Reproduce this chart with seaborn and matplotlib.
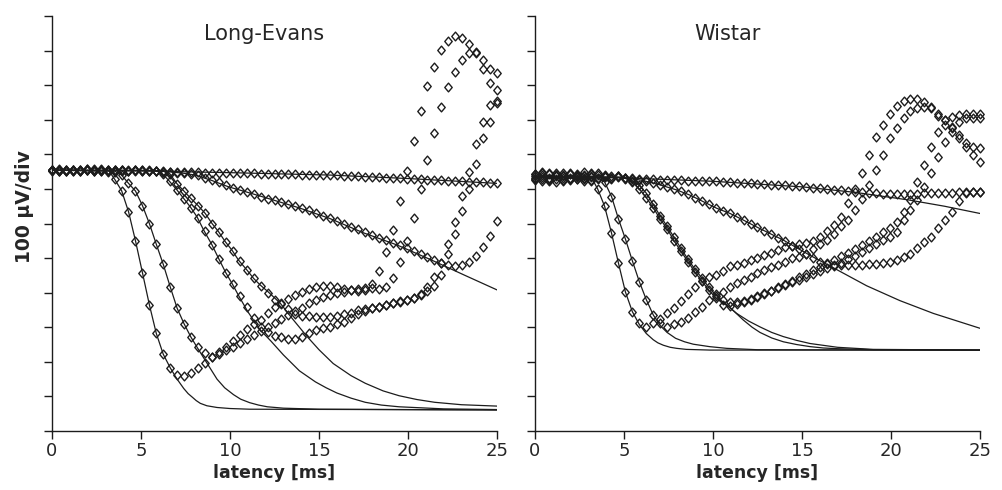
import numpy as np
import matplotlib
matplotlib.use("Agg")
import matplotlib.pyplot as plt
import seaborn as sns
from matplotlib.path import Path

sns.set_style("ticks")
plt.rcParams['font.family'] = ['DejaVu Sans']

# recorded traces are sampled every 25/64 ms
sample_t = np.arange(65) * 25 / 64

# ---- Long-Evans: fitted curves (time ms, amplitude in divisions) ----
le_fit1_t = [0, 3.2, 3.52, 3.91, 4.3, 4.69, 5.08, 5.47, 5.86, 6.25, 6.64, 7.0, 7.4, 7.65, 7.9, 8.1, 8.33, 8.7, 9.27, 10.0, 11.1, 25]
le_fit1_v = [7.54, 7.52, 7.28, 6.95, 6.34, 5.5, 4.58, 3.65, 2.82, 2.22, 1.83, 1.52, 1.23, 1.08, 0.97, 0.88, 0.8, 0.73, 0.68, 0.65, 0.63, 0.61]
le_fit2_t = [0, 3.5, 3.91, 4.3, 4.69, 5.08, 5.47, 5.86, 6.25, 6.64, 7.03, 7.42, 7.81, 8.2, 8.6, 9.27, 9.7, 10.2, 10.6, 11.1, 11.6, 12.1, 13.0, 15.0, 25]
le_fit2_v = [7.54, 7.52, 7.4, 7.16, 6.94, 6.52, 6.0, 5.4, 4.82, 4.17, 3.55, 3.1, 2.71, 2.38, 2.05, 1.5, 1.25, 1.05, 0.92, 0.82, 0.75, 0.7, 0.66, 0.63, 0.61]
le_fit3_t = [0, 5.8, 6.18, 6.55, 7.02, 7.39, 7.77, 8.15, 8.52, 8.99, 9.36, 9.74, 10.11, 10.5, 11.0, 11.7, 12.3, 13.0, 13.9, 14.8, 15.4, 16.0, 16.8, 17.6, 18.5, 19.5, 22, 25]
le_fit3_v = [7.54, 7.53, 7.45, 7.25, 6.97, 6.73, 6.48, 6.19, 5.81, 5.38, 4.99, 4.6, 4.27, 3.9, 3.45, 2.92, 2.6, 2.2, 1.74, 1.42, 1.25, 1.1, 0.95, 0.83, 0.75, 0.7, 0.64, 0.62]
le_fit4_t = [0, 6.2, 6.6, 7.02, 7.39, 7.77, 8.2, 8.61, 8.99, 9.36, 9.74, 10.11, 10.48, 10.96, 11.33, 11.7, 12.13, 12.83, 13.5, 14.3, 15.0, 15.8, 16.8, 17.6, 18.6, 19.5, 20.5, 21.5, 23, 25]
le_fit4_v = [7.54, 7.53, 7.45, 7.15, 6.95, 6.74, 6.52, 6.29, 6.0, 5.76, 5.47, 5.23, 4.94, 4.65, 4.41, 4.22, 4.03, 3.69, 3.25, 2.75, 2.35, 1.95, 1.6, 1.38, 1.16, 1.02, 0.91, 0.83, 0.76, 0.72]
le_fit5_t = [0, 5.5, 6.5, 7.3, 8.05, 9.0, 9.92, 11.0, 12.17, 13.9, 15.63, 17.5, 19.38, 21.25, 23.2, 25]
le_fit5_v = [7.54, 7.53, 7.5, 7.46, 7.4, 7.24, 7.06, 6.9, 6.72, 6.45, 6.14, 5.73, 5.38, 4.96, 4.5, 4.08]
le_fit6_t = [0, 5, 10, 15.63, 20, 25]
le_fit6_v = [7.54, 7.52, 7.47, 7.4, 7.3, 7.16]

# ---- Long-Evans: recorded traces (65 samples each) ----
le_rec1 = [7.55, 7.52, 7.56, 7.53, 7.55, 7.57, 7.54, 7.56, 7.50, 7.28,
           6.95, 6.34, 5.50, 4.58, 3.65, 2.82, 2.22, 1.83, 1.62, 1.59,
           1.69, 1.81, 1.96, 2.15, 2.29, 2.44, 2.61, 2.77, 2.94, 3.09,
           3.21, 3.42, 3.59, 3.69, 3.83, 3.93, 4.03, 4.12, 4.17, 4.18,
           4.18, 4.17, 4.12, 4.08, 4.05, 4.09, 4.26, 4.63, 5.18, 5.81,
           6.66, 7.52, 8.39, 9.26, 9.97, 10.53, 11.01, 11.27, 11.43, 11.35,
           11.20, 10.96, 10.72, 10.48, 10.36]
le_rec2 = [7.53, 7.56, 7.52, 7.55, 7.54, 7.57, 7.53, 7.55, 7.52, 7.50,
           7.40, 7.16, 6.94, 6.52, 6.00, 5.40, 4.82, 4.17, 3.55, 3.10,
           2.71, 2.42, 2.26, 2.15, 2.22, 2.33, 2.44, 2.55, 2.66, 2.78,
           2.90, 3.02, 3.13, 3.24, 3.35, 3.46, 3.56, 3.70, 3.80, 3.88,
           3.93, 3.98, 4.03, 4.08, 4.12, 4.14, 4.13, 4.12, 4.17, 4.43,
           4.89, 5.50, 6.17, 7.01, 7.83, 8.63, 9.37, 9.95, 10.38, 10.72,
           10.92, 10.92, 10.48, 10.05, 9.86]
le_rec3 = [7.54, 7.57, 7.53, 7.56, 7.52, 7.55, 7.53, 7.57, 7.54, 7.55,
           7.53, 7.56, 7.54, 7.55, 7.53, 7.52, 7.42, 7.22, 6.97, 6.72,
           6.46, 6.16, 5.78, 5.38, 4.98, 4.58, 4.24, 3.90, 3.58, 3.28,
           3.02, 2.87, 2.76, 2.71, 2.65, 2.65, 2.71, 2.82, 2.92, 2.98,
           3.02, 3.10, 3.16, 3.28, 3.38, 3.48, 3.55, 3.60, 3.64, 3.69,
           3.74, 3.79, 3.84, 3.95, 4.17, 4.46, 4.85, 5.40, 6.05, 6.79,
           7.49, 8.31, 8.94, 9.42, 9.55]
le_rec4 = [7.56, 7.53, 7.55, 7.52, 7.56, 7.54, 7.52, 7.55, 7.53, 7.56,
           7.54, 7.52, 7.55, 7.53, 7.54, 7.53, 7.50, 7.42, 7.15, 6.95,
           6.74, 6.50, 6.30, 6.00, 5.75, 5.47, 5.20, 4.92, 4.66, 4.41,
           4.20, 3.98, 3.80, 3.68, 3.52, 3.38, 3.33, 3.32, 3.30, 3.30,
           3.30, 3.33, 3.38, 3.42, 3.50, 3.52, 3.57, 3.60, 3.65, 3.70,
           3.75, 3.80, 3.86, 3.93, 4.05, 4.20, 4.50, 5.13, 5.71, 6.37,
           7.01, 7.72, 8.46, 8.94, 9.48]
le_rec5 = [7.55, 7.53, 7.56, 7.54, 7.52, 7.55, 7.57, 7.53, 7.55, 7.54,
           7.56, 7.53, 7.55, 7.54, 7.53, 7.52, 7.51, 7.49, 7.47, 7.45,
           7.42, 7.39, 7.33, 7.26, 7.19, 7.11, 7.04, 6.97, 6.91, 6.85,
           6.78, 6.72, 6.67, 6.61, 6.55, 6.50, 6.45, 6.38, 6.30, 6.23,
           6.15, 6.07, 5.99, 5.91, 5.83, 5.74, 5.67, 5.59, 5.52, 5.45,
           5.38, 5.30, 5.21, 5.12, 5.03, 4.94, 4.85, 4.80, 4.77, 4.80,
           4.89, 5.06, 5.33, 5.64, 6.07]
le_rec6 = [7.54, 7.56, 7.52, 7.55, 7.53, 7.56, 7.54, 7.52, 7.55, 7.53,
           7.54, 7.53, 7.52, 7.52, 7.52, 7.51, 7.50, 7.50, 7.49, 7.49,
           7.48, 7.48, 7.47, 7.47, 7.47, 7.47, 7.46, 7.46, 7.45, 7.45,
           7.44, 7.44, 7.43, 7.43, 7.42, 7.42, 7.41, 7.41, 7.40, 7.40,
           7.40, 7.39, 7.38, 7.37, 7.36, 7.35, 7.34, 7.34, 7.33, 7.32,
           7.31, 7.30, 7.29, 7.28, 7.27, 7.26, 7.25, 7.24, 7.23, 7.22,
           7.21, 7.20, 7.19, 7.18, 7.16]

# ---- Wistar: fitted curves ----
wi_fit1_t = [0, 3.2, 3.52, 3.91, 4.3, 4.69, 5.08, 5.47, 5.86, 6.25, 6.64, 6.9, 7.21, 7.6, 7.96, 8.5, 9.83, 25]
wi_fit1_v = [7.35, 7.3, 7.0, 6.5, 5.72, 4.85, 4.02, 3.45, 3.08, 2.82, 2.64, 2.55, 2.48, 2.42, 2.39, 2.36, 2.34, 2.34]
wi_fit2_t = [0, 3.5, 3.91, 4.3, 4.69, 5.08, 5.47, 5.86, 6.25, 6.64, 7.03, 7.42, 7.9, 8.4, 8.89, 9.8, 10.77, 12.5, 25]
wi_fit2_v = [7.35, 7.33, 7.2, 6.78, 6.13, 5.55, 4.92, 4.32, 3.8, 3.36, 3.05, 2.85, 2.68, 2.58, 2.51, 2.44, 2.39, 2.35, 2.34]
wi_fit3_t = [0, 4.6, 5.1, 5.5, 5.86, 6.25, 6.65, 7.03, 7.42, 7.81, 8.2, 8.59, 8.98, 9.38, 9.77, 10.16, 10.55, 10.96, 11.7, 12.2, 12.64, 13.3, 13.95, 14.7, 15.45, 16.2, 17, 19, 25]
wi_fit3_v = [7.35, 7.34, 7.3, 7.2, 7.0, 6.75, 6.45, 6.13, 5.85, 5.5, 5.2, 4.9, 4.6, 4.33, 4.07, 3.85, 3.7, 3.57, 3.21, 3.0, 2.85, 2.69, 2.58, 2.5, 2.44, 2.4, 2.38, 2.35, 2.34]
wi_fit4_t = [0, 4.9, 5.47, 5.86, 6.25, 6.64, 7.03, 7.42, 7.81, 8.2, 8.59, 8.98, 9.38, 9.77, 10.4, 11.33, 12.0, 12.64, 13.3, 13.95, 14.7, 15.45, 17, 19, 25]
wi_fit4_v = [7.35, 7.34, 7.24, 7.1, 6.88, 6.55, 6.22, 5.92, 5.6, 5.28, 4.97, 4.68, 4.42, 4.15, 3.8, 3.4, 3.18, 3.01, 2.85, 2.73, 2.62, 2.53, 2.42, 2.36, 2.34]
wi_fit5_t = [0, 5.0, 6.0, 7.0, 7.96, 8.71, 9.46, 10.21, 10.96, 11.7, 12.45, 13.2, 13.95, 14.7, 15.45, 16.76, 18.63, 20.5, 22.38, 25]
wi_fit5_v = [7.35, 7.33, 7.25, 7.12, 6.97, 6.82, 6.63, 6.44, 6.29, 6.1, 5.9, 5.71, 5.52, 5.3, 5.08, 4.72, 4.2, 3.77, 3.4, 2.97]
wi_fit6_t = [0, 5, 10, 15, 18, 21, 23, 25]
wi_fit6_v = [7.35, 7.32, 7.22, 7.06, 6.9, 6.68, 6.5, 6.29]

# ---- Wistar: recorded traces ----
wi_rec1 = [7.42, 7.28, 7.45, 7.30, 7.40, 7.25, 7.44, 7.33, 7.38, 7.00,
           6.50, 5.72, 4.85, 4.02, 3.45, 3.11, 3.01, 3.12, 3.25, 3.40,
           3.57, 3.77, 3.97, 4.17, 4.35, 4.46, 4.51, 4.64, 4.77, 4.80,
           4.86, 4.94, 5.00, 5.09, 5.16, 5.24, 5.31, 5.35, 5.40, 5.44,
           5.48, 5.62, 5.77, 5.95, 6.20, 6.58, 7.01, 7.47, 7.98, 8.50,
           8.86, 9.18, 9.41, 9.54, 9.60, 9.61, 9.52, 9.37, 9.18, 8.98,
           8.78, 8.55, 8.33, 8.20, 8.17]
wi_rec2 = [7.30, 7.46, 7.26, 7.41, 7.32, 7.47, 7.28, 7.40, 7.35, 7.33,
           7.20, 6.78, 6.13, 5.55, 4.92, 4.32, 3.80, 3.36, 3.11, 3.01,
           3.10, 3.16, 3.26, 3.45, 3.58, 3.78, 3.90, 4.02, 4.16, 4.27,
           4.36, 4.46, 4.56, 4.65, 4.75, 4.80, 4.90, 4.99, 5.02, 5.12,
           5.27, 5.40, 5.52, 5.71, 5.94, 6.10, 6.39, 6.72, 7.11, 7.55,
           7.98, 8.46, 8.75, 9.04, 9.25, 9.34, 9.36, 9.33, 9.12, 8.84,
           8.65, 8.46, 8.22, 7.98, 7.78]
wi_rec3 = [7.38, 7.22, 7.44, 7.36, 7.24, 7.42, 7.30, 7.48, 7.27, 7.40,
           7.34, 7.37, 7.38, 7.30, 7.20, 7.00, 6.75, 6.45, 6.13, 5.85,
           5.50, 5.20, 4.90, 4.60, 4.33, 4.07, 3.85, 3.64, 3.61, 3.66,
           3.74, 3.80, 3.88, 3.96, 4.05, 4.15, 4.25, 4.35, 4.45, 4.55,
           4.65, 4.75, 4.85, 4.95, 5.05, 5.15, 5.25, 5.37, 5.50, 5.62,
           5.74, 5.88, 6.03, 6.34, 6.68, 7.20, 7.69, 8.22, 8.65, 8.99,
           9.08, 9.15, 9.18, 9.18, 9.18]
wi_rec4 = [7.26, 7.40, 7.33, 7.21, 7.45, 7.31, 7.38, 7.24, 7.43, 7.29,
           7.36, 7.32, 7.35, 7.32, 7.24, 7.10, 6.88, 6.55, 6.22, 5.92,
           5.60, 5.28, 4.97, 4.68, 4.42, 4.15, 3.95, 3.80, 3.72, 3.72,
           3.76, 3.82, 3.90, 3.98, 4.06, 4.14, 4.22, 4.30, 4.38, 4.46,
           4.54, 4.62, 4.70, 4.78, 4.87, 4.96, 5.06, 5.17, 5.30, 5.42,
           5.52, 5.62, 5.76, 6.10, 6.39, 6.68, 7.06, 7.45, 7.93, 8.36,
           8.75, 8.94, 9.04, 9.04, 9.04]
wi_rec5 = [7.44, 7.34, 7.23, 7.47, 7.37, 7.29, 7.41, 7.36, 7.22, 7.45,
           7.38, 7.31, 7.36, 7.33, 7.30, 7.27, 7.22, 7.17, 7.12, 7.05,
           7.00, 6.93, 6.85, 6.75, 6.65, 6.55, 6.45, 6.37, 6.29, 6.20,
           6.10, 5.99, 5.89, 5.79, 5.69, 5.59, 5.49, 5.36, 5.25, 5.13,
           5.00, 4.90, 4.84, 4.80, 4.79, 4.79, 4.80, 4.80, 4.82, 4.84,
           4.86, 4.90, 4.95, 5.03, 5.13, 5.28, 5.47, 5.62, 5.86, 6.10,
           6.34, 6.65, 6.88, 6.92, 6.92]
wi_rec6 = [7.33, 7.48, 7.29, 7.39, 7.26, 7.43, 7.35, 7.30, 7.46, 7.32,
           7.40, 7.28, 7.37, 7.32, 7.31, 7.30, 7.29, 7.28, 7.27, 7.26,
           7.26, 7.25, 7.24, 7.23, 7.23, 7.22, 7.22, 7.21, 7.20, 7.18,
           7.17, 7.16, 7.15, 7.14, 7.12, 7.11, 7.10, 7.09, 7.07, 7.06,
           7.04, 7.02, 7.00, 6.98, 6.96, 6.94, 6.92, 6.90, 6.88, 6.87,
           6.86, 6.85, 6.85, 6.85, 6.86, 6.86, 6.87, 6.87, 6.88, 6.88,
           6.89, 6.90, 6.90, 6.91, 6.92]

le_fits = [(le_fit1_t, le_fit1_v), (le_fit2_t, le_fit2_v), (le_fit3_t, le_fit3_v),
           (le_fit4_t, le_fit4_v), (le_fit5_t, le_fit5_v), (le_fit6_t, le_fit6_v)]
le_recs = [le_rec1, le_rec2, le_rec3, le_rec4, le_rec5, le_rec6]
wi_fits = [(wi_fit1_t, wi_fit1_v), (wi_fit2_t, wi_fit2_v), (wi_fit3_t, wi_fit3_v),
           (wi_fit4_t, wi_fit4_v), (wi_fit5_t, wi_fit5_v), (wi_fit6_t, wi_fit6_v)]
wi_recs = [wi_rec1, wi_rec2, wi_rec3, wi_rec4, wi_rec5, wi_rec6]

ink = '#1c1c1c'
diamond = Path([(0, 1), (0.85, 0), (0, -1), (-0.85, 0), (0, 1)],
               [Path.MOVETO, Path.LINETO, Path.LINETO, Path.LINETO, Path.CLOSEPOLY])


def draw_panel(ax, fits, recs, title, title_x):
    for t, v in fits:
        sns.lineplot(x=t, y=v, ax=ax, color=ink, lw=0.9, estimator=None, sort=False)
    for v in recs:
        sns.lineplot(x=sample_t, y=v, ax=ax, ls='', marker=diamond, markersize=6.3,
                     markerfacecolor='none', markeredgecolor=ink, markeredgewidth=1.0,
                     estimator=None, sort=False, clip_on=False)
    ax.set_xlim(0, 25)
    ax.set_ylim(0, 12)
    ax.set_xticks(range(0, 26, 5))
    ax.set_yticks(range(13))
    ax.set_yticklabels([])
    sns.despine(ax=ax)
    for s in ['left', 'bottom']:
        ax.spines[s].set_linewidth(1.0)
        ax.spines[s].set_color(ink)
    ax.tick_params(direction='out', length=6, width=1, color=ink, labelsize=13, pad=2)
    ax.set_xlabel('latency [ms]', fontsize=12.5, fontweight='bold', labelpad=3)
    ax.set_ylabel('')
    ax.text(title_x, 11.3, title, ha='center', va='baseline', fontsize=15)


fig = plt.figure(figsize=(10.03, 4.9), dpi=100)
ax1 = fig.add_axes([52 / 1003, 59 / 490, 445 / 1003, 415 / 490])
ax2 = fig.add_axes([535 / 1003, 59 / 490, 445 / 1003, 415 / 490])

draw_panel(ax1, le_fits, le_recs, 'Long-Evans', 11.9)
draw_panel(ax2, wi_fits, wi_recs, 'Wistar', 10.8)

fig.text(24.5 / 1003, 1 - 207 / 490, '100 µV/div', rotation=90, ha='center', va='center',
         fontsize=13.5, fontweight='bold')

fig.savefig('out.png', dpi=100)
